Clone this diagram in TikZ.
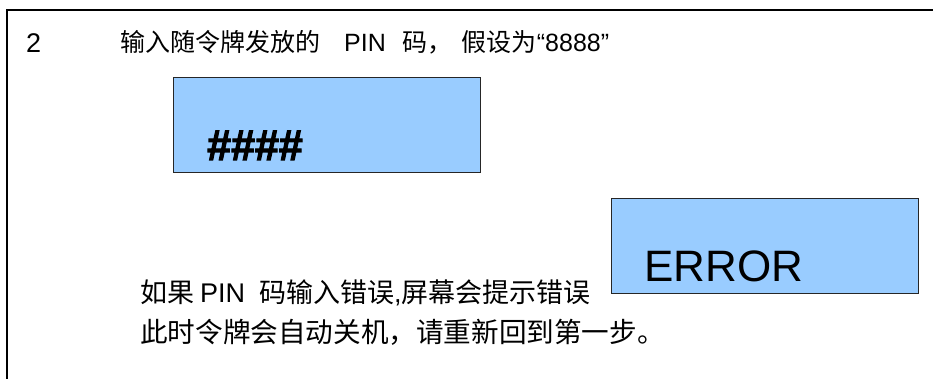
\documentclass[tikz,border=0pt]{standalone}
\usepackage{fontspec}
\setmainfont{Liberation Sans}[BoldFont={Liberation Sans Bold}]
\newfontfamily\cjk{Noto Sans CJK SC}
\newfontfamily\hashfont{Liberation Sans Bold}[FakeBold=2.5]
\definecolor{screenblue}{HTML}{99CCFF}
\tikzset{
  screen/.style={draw=black!85, line width=0.8pt, fill=screenblue, inner sep=0pt, anchor=north west, minimum width=307pt, minimum height=95pt},
  txt/.style={anchor=base west, inner sep=0pt, text=black},
  frameline/.style={line width=1.3pt, draw=black}
}
\begin{document}
\begin{tikzpicture}[x=1pt,y=-1pt]
\useasboundingbox (0,0) rectangle (933,379);
\coordinate (fb) at (7,390);
\coordinate (fc) at (7,10);
\coordinate (fr) at (945,10);
\draw[frameline] (fb) -- (fc) -- (fr);
\node[screen] (scr1) at (173,77) {};
\node[screen] (scr2) at (611,198) {};
\node[txt, font=\fontsize{27}{30}\selectfont] (num) at (26,53) {2};
\node[txt, font=\fontsize{25}{30}\selectfont] (line1) at (120,52)
  {{\cjk 输入随令牌发放的}\hspace{24pt}PIN\hspace{17pt}{\cjk 码，}\hspace{9pt}{\cjk 假设为}“8888”};
\node[txt, font=\hashfont\fontsize{43}{48}\selectfont] (pin) at (207,160) {\#\#\#\#};
\node[txt, font=\fontsize{44}{50}\selectfont] (err) at (644,281) {ERROR};
\node[txt, font=\fontsize{27}{32}\selectfont] (line3) at (140,302)
  {{\cjk 如果}\hspace{6pt}PIN\hspace{14pt}{\cjk 码输入错误},{\cjk 屏幕会提示错误}};
\node[txt, font=\fontsize{27.6}{32}\selectfont] (line4) at (140,342)
  {{\cjk 此时令牌会自动关机，请重新回到第一步。}};
\end{tikzpicture}
\end{document}
